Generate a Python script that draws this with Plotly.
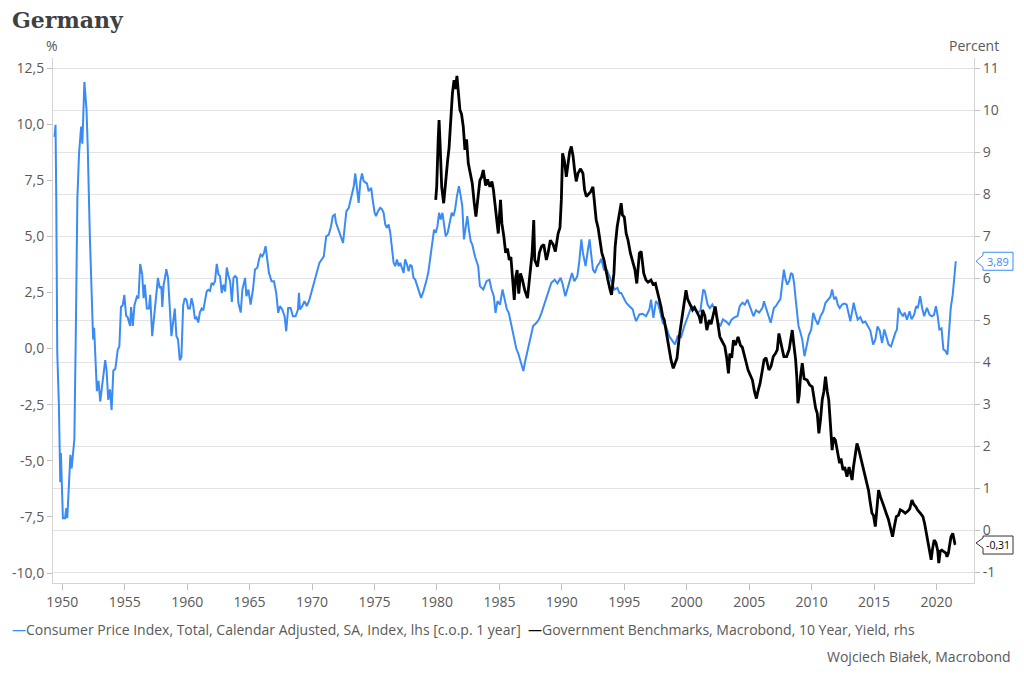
import plotly.graph_objects as go

# ---------------- data ----------------
cpi_year = [
    1949.38, 1949.46, 1949.52, 1949.6, 1949.73, 1949.78, 1949.84, 1949.89, 1949.95, 1950.05,
    1950.22, 1950.32, 1950.4, 1950.54, 1950.65, 1950.75, 1950.86, 1950.97, 1951.08, 1951.21,
    1951.34, 1951.51, 1951.61, 1951.72, 1951.77, 1951.94, 1952.04, 1952.2, 1952.37, 1952.47,
    1952.55, 1952.63, 1952.77, 1952.9, 1953.04, 1953.17, 1953.31, 1953.44, 1953.55, 1953.68,
    1953.82, 1953.95, 1954.09, 1954.25, 1954.44, 1954.57, 1954.7, 1954.84, 1954.97, 1955.11,
    1955.24, 1955.43, 1955.51, 1955.65, 1955.78, 1955.97, 1956.1, 1956.24, 1956.4, 1956.51,
    1956.61, 1956.77, 1956.94, 1957.04, 1957.2, 1957.39, 1957.53, 1957.66, 1957.8, 1957.93,
    1958.01, 1958.12, 1958.25, 1958.33, 1958.47, 1958.6, 1958.74, 1958.87, 1959.01, 1959.14,
    1959.27, 1959.41, 1959.54, 1959.68, 1959.81, 1959.95, 1960.08, 1960.22, 1960.35, 1960.48,
    1960.62, 1960.75, 1960.89, 1961.02, 1961.16, 1961.29, 1961.56, 1961.69, 1961.83, 1961.96,
    1962.1, 1962.23, 1962.37, 1962.5, 1962.63, 1962.77, 1962.9, 1963.04, 1963.17, 1963.31,
    1963.44, 1963.58, 1963.71, 1963.84, 1963.98,
    1964.1, 1964.29, 1964.42, 1964.64, 1964.74, 1964.9, 1965.08, 1965.27, 1965.43, 1965.62,
    1965.75, 1965.88, 1966.02, 1966.15, 1966.28, 1966.39, 1966.55, 1966.76, 1966.95, 1967.13,
    1967.29, 1967.43, 1967.61, 1967.8, 1967.93, 1968.09, 1968.28, 1968.47, 1968.68, 1968.87,
    1968.95, 1969.03, 1969.21, 1969.39, 1969.58, 1969.79, 1970.06, 1970.27, 1970.59, 1970.94,
    1971.13, 1971.34, 1971.52, 1971.66, 1971.82, 1971.92, 1972.27, 1972.48, 1972.62, 1972.75,
    1972.94, 1973.07, 1973.2, 1973.34, 1973.46, 1973.6, 1973.73, 1973.87, 1974.0, 1974.13,
    1974.4, 1974.53, 1974.74, 1974.85, 1975.01, 1975.12, 1975.28, 1975.46, 1975.6, 1975.73,
    1975.86, 1975.99, 1976.13, 1976.26, 1976.39, 1976.53, 1976.66, 1976.8, 1976.93, 1977.06,
    1977.19, 1977.33, 1977.45, 1977.6, 1977.73, 1977.86, 1977.99, 1978.12, 1978.26, 1978.39,
    1978.53, 1978.73, 1978.92, 1979.05, 1979.19, 1979.32, 1979.45, 1979.59, 1979.77, 1979.9,
    1980.04, 1980.17, 1980.3, 1980.44, 1980.57, 1980.7, 1980.86, 1981.05, 1981.18, 1981.32,
    1981.45, 1981.6, 1981.76, 1981.9, 1982.03, 1982.16, 1982.3, 1982.43, 1982.56, 1982.7,
    1982.83, 1983.04, 1983.3, 1983.44, 1983.71, 1983.97, 1984.2, 1984.37, 1984.55, 1984.69,
    1984.85, 1985.05, 1985.25, 1985.44, 1985.6, 1985.75, 1985.91, 1986.05, 1986.2, 1986.35,
    1986.5, 1986.65, 1986.8, 1986.92, 1987.05, 1987.2, 1987.4, 1987.55, 1987.7, 1987.97,
    1988.17, 1988.37, 1988.56, 1988.76, 1988.96, 1989.16, 1989.43, 1989.65, 1989.9, 1990.05,
    1990.28, 1990.45, 1990.62, 1990.81, 1991.0, 1991.24, 1991.4, 1991.56, 1991.69, 1991.9,
    1992.09, 1992.22, 1992.35, 1992.49, 1992.65, 1992.83, 1993.02, 1993.15, 1993.37, 1993.6,
    1993.82, 1994.09, 1994.21, 1994.45, 1994.61, 1994.75, 1994.88, 1995.15, 1995.28, 1995.41,
    1995.68, 1995.81, 1995.95, 1996.21, 1996.48, 1996.74, 1997.01, 1997.14, 1997.33, 1997.54,
    1997.7, 1997.89, 1998.08, 1998.34, 1998.6, 1998.87, 1999.06, 1999.27, 1999.55, 1999.8,
    1999.95, 2000.2, 2000.39, 2000.6, 2000.9, 2001.1, 2001.32, 2001.45, 2001.67, 2001.85,
    2002.05, 2002.25, 2002.47, 2002.68, 2002.9, 2003.15, 2003.39, 2003.6, 2003.85, 2004.06,
    2004.25, 2004.46, 2004.65, 2004.86, 2005.1, 2005.34, 2005.55, 2005.8, 2006.06, 2006.19,
    2006.35, 2006.58, 2006.72, 2006.98, 2007.15, 2007.3, 2007.5, 2007.65, 2007.78, 2007.92,
    2008.05, 2008.2, 2008.35, 2008.48, 2008.6, 2008.72, 2008.85, 2008.95, 2009.11, 2009.25,
    2009.43, 2009.59, 2009.78, 2009.97, 2010.13, 2010.31, 2010.5, 2010.71, 2010.93, 2011.11,
    2011.3, 2011.5, 2011.64, 2011.8, 2011.95, 2012.09, 2012.25, 2012.44, 2012.6, 2012.8,
    2013.1, 2013.25, 2013.37, 2013.5, 2013.69, 2013.9, 2014.09, 2014.3, 2014.49, 2014.7,
    2014.92, 2015.1, 2015.28, 2015.45, 2015.64, 2015.82, 2016.0, 2016.16, 2016.36, 2016.55,
    2016.7, 2016.83, 2016.96, 2017.12, 2017.31, 2017.45, 2017.63, 2017.84, 2018.0, 2018.2,
    2018.37, 2018.5, 2018.69, 2018.85, 2019.01, 2019.23, 2019.45, 2019.63, 2019.8, 2019.95,
    2020.08, 2020.23, 2020.4, 2020.55, 2020.7, 2020.87, 2021.0, 2021.14, 2021.3, 2021.4,
    2021.54,
]
cpi_value = [
    9.43, 9.97, 6.68, -0.21, -2.51, -4.66, -5.96, -4.66, -6.03, -7.56,
    -7.56, -7.11, -7.56, -6.19, -4.73, -5.34, -4.81, -4.04, 0.55, 6.68,
    8.67, 9.89, 9.13, 10.96, 11.88, 10.66, 8.97, 5.15, 2.08, 0.4,
    0.93, 0.09, -1.9, -1.44, -2.36, -1.75, -0.98, -0.52, -0.98, -2.28,
    -1.82, -2.74, -0.98, -0.9, -0.06, 0.09, 1.85, 1.93, 2.39, 1.47,
    1.39, 1.01, 1.85, 1.01, 1.93, 2.31, 2.24, 3.77, 3.31, 2.24,
    2.85, 1.78, 1.78, 2.39, 0.55, 1.78, 2.39, 3.15, 2.7, 2.77,
    1.85, 2.85, 3.23, 3.54, 3.15, 1.78, 0.55, 1.16, 1.78, 0.55,
    0.4, -0.52, -0.37, 1.93, 2.24, 2.16, 1.78, 1.78, 2.24, 1.93,
    1.32, 1.39, 1.16, 1.62, 1.78, 1.7, 2.54, 2.62, 2.57, 2.92,
    2.85, 3.0, 3.77, 3.31, 3.23, 2.47, 2.85, 2.54, 3.61, 3.23,
    3.0, 2.08, 3.15, 3.23, 3.15,
    2.04, 1.6, 2.63, 3.15, 2.33, 2.63, 1.96, 2.63, 3.52, 3.6,
    3.97, 4.19, 4.11, 4.26, 4.56, 3.97, 3.37, 3.0, 3.0, 2.48,
    1.59, 1.89, 1.74, 1.44, 0.77, 1.81, 1.81, 1.44, 1.44, 1.74,
    2.48, 1.74, 1.89, 2.11, 1.89, 2.18, 2.78, 3.22, 3.82, 4.11,
    5.0, 5.08, 5.45, 5.9, 5.97, 5.6, 5.0, 4.71, 5.45, 6.12,
    6.27, 6.56, 6.79, 7.23, 7.8, 7.2, 6.49, 7.46, 7.8, 7.46,
    7.35, 7.01, 7.16, 6.64, 6.05, 5.9, 6.12, 6.27, 6.2, 6.05,
    5.53, 5.38, 5.53, 5.16, 4.56, 3.82, 3.67, 3.97, 3.67, 3.82,
    3.6, 3.37, 3.97, 3.74, 3.44, 3.74, 3.67, 3.15, 3.07, 2.85,
    2.63, 2.26, 2.55, 2.78, 3.1, 3.44, 3.97, 4.78, 5.3, 5.16,
    5.45, 6.05, 5.75, 6.05, 5.45, 5.0, 5.16, 5.67, 6.05, 5.9,
    6.19, 6.79, 7.23, 6.8, 6.34, 4.86, 5.3, 5.9, 5.3, 4.78,
    4.63, 4.11, 3.67, 2.78, 2.63, 3.0, 3.07, 2.63, 2.33, 1.59,
    2.11, 1.96, 2.63, 2.18, 1.74, 1.59, 1.15, 0.85, 0.45, 0.0,
    -0.2, -0.5, -0.7, -1.0, -0.6, -0.2, 0.3, 0.6, 1.0, 1.15,
    1.3, 1.59, 1.9, 2.18, 2.6, 2.93, 3.07, 2.9, 3.15, 2.9,
    2.33, 2.7, 3.0, 3.37, 3.0, 3.22, 3.9, 4.86, 4.26, 3.67,
    4.41, 4.86, 4.2, 3.52, 3.37, 3.67, 3.82, 4.0, 3.52, 3.5,
    3.22, 2.78, 2.63, 2.7, 2.48, 2.48, 2.33, 2.04, 1.96, 1.89,
    1.74, 1.44, 1.22, 1.52, 1.55, 1.44, 1.74, 2.18, 1.37, 2.11,
    2.0, 1.59, 1.15, 0.99, 0.55, 0.33, 0.18, 0.55, 0.5, 0.99,
    1.2, 1.59, 1.89, 1.8, 1.6, 1.7, 2.63, 2.55, 1.96, 1.8,
    1.96, 1.74, 1.22, 0.99, 1.3, 1.2, 1.07, 1.3, 1.4, 1.44,
    1.9, 2.04, 1.95, 2.18, 1.8, 1.44, 1.7, 1.6, 1.81, 2.11,
    1.8, 1.44, 1.15, 1.81, 1.9, 2.04, 2.2, 2.93, 3.52, 3.07,
    2.85, 3.0, 3.37, 3.3, 2.9, 2.2, 1.3, 1.0, 0.7, 0.4,
    -0.34, 0.1, 0.6, 0.85, 1.59, 1.29, 1.07, 1.44, 1.66, 2.04,
    2.18, 2.3, 2.63, 2.2, 2.3, 1.96, 1.8, 1.96, 2.0, 1.96,
    1.22, 1.7, 2.04, 1.7, 1.29, 1.4, 1.15, 1.2, 0.99, 0.8,
    0.18, 0.4, 0.99, 0.8, 0.25, 0.85, 0.5, 0.18, 0.1, 0.5,
    0.7, 0.85, 1.81, 1.6, 1.44, 1.6, 1.29, 1.66, 1.3, 1.5,
    1.89, 1.8, 2.33, 1.8, 1.44, 1.81, 1.5, 1.44, 1.5, 1.89,
    1.5, 0.85, 0.9, -0.04, -0.1, -0.27, 0.85, 1.81, 2.41, 3.22,
    3.89,
]

bund_year = [
    1979.9, 1979.98, 1980.1, 1980.17, 1980.25, 1980.38, 1980.54, 1980.7, 1980.86, 1980.97,
    1981.13, 1981.24, 1981.37, 1981.48, 1981.6, 1981.71, 1981.84, 1981.97, 1982.11, 1982.24,
    1982.37, 1982.51, 1982.65, 1982.83, 1982.98, 1983.12, 1983.28, 1983.44, 1983.57, 1983.71,
    1983.9, 1984.05, 1984.24, 1984.4, 1984.52, 1984.64, 1984.78, 1984.91, 1985.09, 1985.2,
    1985.36, 1985.5, 1985.65, 1985.79, 1985.92, 1986.03, 1986.19, 1986.3, 1986.42, 1986.55,
    1986.69, 1986.85, 1987.03, 1987.25, 1987.43, 1987.62, 1987.75, 1987.83, 1988.05, 1988.2,
    1988.37, 1988.55, 1988.76, 1988.9, 1989.08, 1989.3, 1989.48, 1989.7, 1989.85, 1989.96,
    1990.06, 1990.2, 1990.36, 1990.5, 1990.62, 1990.76, 1990.9, 1991.02, 1991.15, 1991.29,
    1991.5, 1991.69, 1991.82, 1991.96, 1992.15, 1992.3, 1992.49, 1992.62, 1992.75, 1992.9,
    1993.07, 1993.2, 1993.37, 1993.55, 1993.69, 1993.87, 1993.98, 1994.17, 1994.27, 1994.43,
    1994.61, 1994.75, 1994.85, 1995.0, 1995.15, 1995.3, 1995.49, 1995.68, 1995.85, 1996.0,
    1996.13, 1996.21, 1996.35, 1996.56, 1996.74, 1996.9, 1997.14, 1997.3, 1997.49, 1997.65,
    1997.81, 1997.95, 1998.08, 1998.2, 1998.34, 1998.47, 1998.6, 1998.74, 1998.92, 1999.05,
    1999.22, 1999.4, 1999.54, 1999.68, 1999.8, 1999.94, 2000.07, 2000.2, 2000.35, 2000.47,
    2000.62, 2000.8, 2001.0, 2001.13, 2001.27, 2001.45, 2001.61, 2001.8, 2001.95, 2002.15,
    2002.28, 2002.45, 2002.65, 2002.82, 2003.05, 2003.2, 2003.34, 2003.45, 2003.6, 2003.74,
    2003.9, 2004.11, 2004.3, 2004.45, 2004.59, 2004.75, 2004.91, 2005.05, 2005.26, 2005.42,
    2005.58, 2005.7, 2005.87, 2006.05, 2006.19, 2006.35, 2006.5, 2006.58, 2006.75, 2006.93,
    2007.1, 2007.25, 2007.38, 2007.52, 2007.65, 2007.78, 2008.0, 2008.2, 2008.45, 2008.58,
    2008.72, 2008.82, 2008.9, 2009.0, 2009.11, 2009.25, 2009.4, 2009.64, 2009.85, 2010.05,
    2010.18, 2010.32, 2010.45, 2010.58, 2010.7, 2010.85, 2010.98, 2011.11, 2011.25, 2011.37,
    2011.5, 2011.64, 2011.75, 2011.9, 2012.05, 2012.24, 2012.35, 2012.51, 2012.65, 2012.83,
    2013.0, 2013.24, 2013.35, 2013.5, 2013.63, 2013.75, 2013.9, 2014.05, 2014.17, 2014.3,
    2014.43, 2014.55, 2014.7, 2014.83, 2014.95, 2015.1, 2015.24, 2015.36, 2015.5, 2015.63,
    2015.8, 2015.97, 2016.15, 2016.35, 2016.48, 2016.6, 2016.78, 2016.95, 2017.1, 2017.3,
    2017.5, 2017.7, 2017.85, 2018.03, 2018.2, 2018.35, 2018.48, 2018.7, 2018.91, 2019.05,
    2019.23, 2019.4, 2019.49, 2019.57, 2019.68, 2019.81, 2019.95, 2020.1, 2020.18, 2020.3,
    2020.42, 2020.6, 2020.75, 2020.84, 2020.95, 2021.03, 2021.16, 2021.3, 2021.4, 2021.47,
    2021.55,
]
bund_value = [
    7.86, 8.17, 9.3, 9.76, 9.2, 8.17, 7.78, 8.41, 8.81, 9.1,
    9.92, 10.4, 10.71, 10.5, 10.81, 10.4, 10.0, 9.9, 9.6, 9.05,
    9.3, 8.73, 8.5, 8.25, 7.8, 7.46, 7.9, 8.33, 8.4, 8.57,
    8.2, 8.35, 8.17, 8.3, 8.1, 7.78, 7.4, 7.06, 7.86, 7.3,
    6.98, 6.6, 6.7, 6.43, 6.5, 6.11, 5.48, 6.0, 6.19, 5.63,
    6.11, 5.95, 5.71, 5.52, 6.11, 6.59, 7.38, 6.43, 6.27, 6.6,
    6.75, 6.8, 6.43, 6.6, 6.9, 6.8, 6.63, 7.06, 7.2, 7.86,
    8.97, 8.8, 8.41, 8.8, 9.0, 9.13, 8.9, 8.57, 8.3, 8.49,
    8.6, 8.49, 8.1, 7.94, 8.0, 8.05, 8.17, 7.8, 7.38, 7.2,
    6.9, 6.6, 6.43, 6.2, 5.95, 5.71, 5.6, 6.11, 6.75, 7.22,
    7.54, 7.78, 7.5, 7.45, 7.06, 6.9, 6.59, 6.35, 6.2, 5.87,
    6.43, 6.59, 6.63, 6.11, 5.95, 5.9, 5.95, 5.85, 5.87, 5.7,
    5.48, 5.3, 5.08, 5.0, 4.76, 4.6, 4.36, 4.05, 3.85, 3.95,
    4.09, 4.6, 4.92, 5.2, 5.48, 5.71, 5.5, 5.4, 5.3, 5.24,
    5.3, 5.2, 5.08, 4.92, 5.24, 5.1, 4.76, 5.0, 4.9, 5.16,
    5.32, 5.0, 4.6, 4.5, 4.37, 4.1, 3.73, 4.2, 4.1, 4.52,
    4.4, 4.6, 4.4, 4.35, 4.21, 4.0, 3.81, 3.7, 3.57, 3.3,
    3.13, 3.3, 3.49, 3.8, 4.05, 4.1, 3.9, 3.81, 3.9, 4.13,
    4.2, 4.29, 4.68, 4.44, 4.3, 4.13, 4.13, 4.3, 4.76, 4.4,
    4.05, 3.6, 3.02, 3.2, 3.65, 3.97, 3.6, 3.57, 3.45, 3.41,
    3.17, 2.9, 2.78, 2.3, 2.6, 3.1, 3.3, 3.65, 3.3, 3.1,
    2.54, 1.9, 2.2, 2.14, 1.9, 1.59, 1.7, 1.43, 1.5, 1.27,
    1.5, 1.19, 1.5, 1.83, 2.06, 1.95, 1.75, 1.6, 1.43, 1.3,
    1.11, 0.95, 0.64, 0.4, 0.35, 0.08, 0.55, 0.95, 0.8, 0.71,
    0.55, 0.4, 0.25, 0.0, -0.16, 0.05, 0.32, 0.35, 0.48, 0.45,
    0.4, 0.45, 0.5, 0.71, 0.6, 0.55, 0.48, 0.4, 0.32, 0.15,
    -0.16, -0.4, -0.56, -0.71, -0.45, -0.24, -0.3, -0.5, -0.79, -0.5,
    -0.48, -0.52, -0.55, -0.64, -0.55, -0.4, -0.16, -0.08, -0.2, -0.32,
    -0.31,
]

x_tick_years = [1950, 1955, 1960, 1965, 1970, 1975, 1980, 1985, 1990, 1995, 2000, 2005, 2010, 2015, 2020]
left_tick_vals = [12.5, 10, 7.5, 5, 2.5, 0, -2.5, -5, -7.5, -10]
left_tick_text = ["12,5", "10,0", "7,5", "5,0", "2,5", "0,0", "-2,5", "-5,0", "-7,5", "-10,0"]
right_tick_vals = [11, 10, 9, 8, 7, 6, 5, 4, 3, 2, 1, 0, -1]
right_tick_text = ["11", "10", "9", "8", "7", "6", "5", "4", "3", "2", "1", "0", "-1"]

title_text = "Germany"
left_unit = "%"
right_unit = "Percent"
cpi_name = "Consumer Price Index, Total, Calendar Adjusted, SA, Index, lhs [c.o.p. 1 year]"
bund_name = "Government Benchmarks, Macrobond, 10 Year, Yield, rhs"
source_text = "Wojciech Białek, Macrobond"

# ---------------- styling / layout ----------------
BLUE = "#3a8bf3"
BLACK = "#000000"
TXT = "#595959"
GRID = "#e3e3e3"
AXIS = "#d4d4d4"
FONT = "Open Sans, Noto Sans, sans-serif"
FS = 14

W, H = 1024, 676
ML, MR, MT, MB = 50, 50, 58, 93
PW, PH = W - ML - MR, H - MT - MB


def pxx(p):
    return (p - ML) / PW


def pxy(p):
    return (H - MB - p) / PH


fig = go.Figure()
fig.add_trace(go.Scatter(x=cpi_year, y=cpi_value, mode="lines", name=cpi_name,
                         line=dict(color=BLUE, width=2), yaxis="y", showlegend=False))
fig.add_trace(go.Scatter(x=bund_year, y=bund_value, mode="lines", name=bund_name,
                         line=dict(color=BLACK, width=2.8), yaxis="y2", showlegend=False))


def fmt(v):
    return f"{v:.2f}".replace(".", ",")


annotations = [
    dict(text=f"<b>{title_text}</b>", x=pxx(7), y=pxy(20), xref="paper", yref="paper",
         xanchor="left", yanchor="middle", showarrow=False,
         font=dict(family="DejaVu Serif, serif", size=22, color="#404040")),
    dict(text=left_unit, x=pxx(49), y=pxy(45), xref="paper", yref="paper",
         xanchor="center", yanchor="middle", showarrow=False, font=dict(family=FONT, size=FS, color=TXT)),
    dict(text=right_unit, x=pxx(974), y=pxy(45), xref="paper", yref="paper",
         xanchor="center", yanchor="middle", showarrow=False, font=dict(family=FONT, size=FS, color=TXT)),
    dict(text=f"<span style='color:{BLUE}'>—</span>{cpi_name}", x=pxx(7), y=pxy(629),
         xref="paper", yref="paper", xanchor="left", yanchor="middle", showarrow=False,
         font=dict(family=FONT, size=FS, color=TXT)),
    dict(text=f"<span style='color:{BLACK}'>—</span>{bund_name}", x=pxx(525), y=pxy(629),
         xref="paper", yref="paper", xanchor="left", yanchor="middle", showarrow=False,
         font=dict(family=FONT, size=FS, color=TXT)),
    dict(text=source_text, x=pxx(1013), y=pxy(656), xref="paper", yref="paper",
         xanchor="right", yanchor="middle", showarrow=False, font=dict(family=FONT, size=FS, color=TXT)),
    dict(text=fmt(cpi_value[-1]), x=pxx(998), y=cpi_value[-1], xref="paper", yref="y",
         xanchor="center", yanchor="middle", showarrow=False, font=dict(family=FONT, size=11, color=BLUE)),
    dict(text=fmt(bund_value[-1]), x=pxx(998), y=bund_value[-1], xref="paper", yref="y2",
         xanchor="center", yanchor="middle", showarrow=False, yshift=-2,
         font=dict(family=FONT, size=10.5, color=BLACK)),
]

callout_path = "M 2 0 L 9 6 L 9 9 L 39 9 L 39 -9 L 9 -9 L 9 -6 Z"
callout_path_low = "M 2 0 L 9 5 L 9 7 L 39 7 L 39 -11 L 9 -11 L 9 -5 Z"
shapes = [
    dict(type="path", xref="paper", yref="y", xsizemode="pixel", ysizemode="pixel",
         xanchor=1.0, yanchor=cpi_value[-1], path=callout_path,
         line=dict(color=BLUE, width=1), fillcolor="white", layer="above"),
    dict(type="path", xref="paper", yref="y2", xsizemode="pixel", ysizemode="pixel",
         xanchor=1.0, yanchor=bund_value[-1], path=callout_path_low,
         line=dict(color="#333333", width=1), fillcolor="white", layer="above"),
]

y_px_per_unit = (573 - 68) / 22.5
y2_px_per_unit = (572 - 68) / 12.0

fig.update_layout(
    width=W, height=H,
    margin=dict(l=ML, r=MR, t=MT, b=MB),
    paper_bgcolor="white", plot_bgcolor="white",
    font=dict(family=FONT, size=FS, color=TXT),
    annotations=annotations, shapes=shapes,
    xaxis=dict(range=[1950 - (59.3 - 50) / 12.53, 1950 + (974 - 59.3) / 12.53],
               tickvals=x_tick_years, ticktext=[str(v) for v in x_tick_years],
               showgrid=False, zeroline=False, showline=True, linecolor=AXIS, linewidth=1,
               ticks="outside", ticklen=6, tickcolor="#bfbfbf",
               tickfont=dict(family=FONT, size=FS, color=TXT)),
    yaxis=dict(range=[-10 - 10 / y_px_per_unit, 12.5 + 10 / y_px_per_unit],
               tickvals=left_tick_vals, ticktext=left_tick_text,
               showgrid=False, zeroline=False, showline=True, linecolor=AXIS, linewidth=1,
               ticks="outside", ticklen=5, tickcolor="#bfbfbf",
               tickfont=dict(family=FONT, size=FS, color=TXT)),
    yaxis2=dict(range=[-1 - 11 / y2_px_per_unit, 11 + 10 / y2_px_per_unit],
                overlaying="y", side="right",
                tickvals=right_tick_vals, ticktext=right_tick_text,
                showgrid=True, gridcolor=GRID, gridwidth=1, zeroline=False,
                showline=True, linecolor=AXIS, linewidth=1,
                ticks="outside", ticklen=5, tickcolor="#bfbfbf",
                tickfont=dict(family=FONT, size=FS, color=TXT)),
    hovermode=False,
)

fig.write_html("out.html", config={"displayModeBar": False},
               post_script="document.body.style.margin='0px';")
